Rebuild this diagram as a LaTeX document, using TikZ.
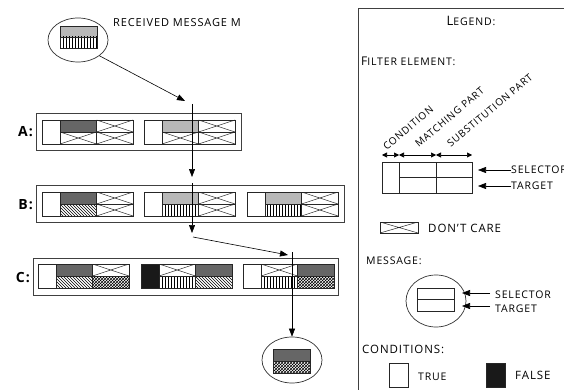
\documentclass[tikz,border=0pt]{standalone}
\usepackage{fontspec}
\setmainfont{Open Sans}[LetterSpace=8]
\usetikzlibrary{patterns,arrows.meta,shapes.geometric}
\newcommand\felem[7]{%
 \path[cl,#3] (#1,#2) rectangle ++(18,24);
 \path[cl,#4] (#1+18,#2) rectangle ++(36.5,12);
 \path[cl,#5] (#1+18,#2+12) rectangle ++(36.5,12);
 \path[cl,#6] (#1+54.5,#2) rectangle ++(36.5,12);
 \path[cl,#7] (#1+54.5,#2+12) rectangle ++(36.5,12);
}
\tikzset{
 frame/.style={draw=black!75, line width=0.9pt},
 cl/.style={draw=black!85, line width=0.7pt},
 wt/.style={fill=white},
 bk/.style={fill=black!90},
 dg/.style={fill=black!60},
 lg/.style={fill=black!28},
 vl/.style={pattern=vertical lines},
 dh/.style={pattern=north west lines},
 ch/.style={pattern=crosshatch},
 xx/.style={path picture={\draw[line width=0.5pt] (path picture bounding box.north west) -- (path picture bounding box.south east) (path picture bounding box.south west) -- (path picture bounding box.north east);}},
 arr/.style={-{Triangle[length=8pt,width=6pt]}, line width=0.6pt},
 darr/.style={{Triangle[length=5pt,width=5pt]}-{Triangle[length=5pt,width=5pt]}, line width=0.6pt},
 lbl/.style={font=\fontsize{10.5}{12}\selectfont, inner sep=0pt},
 rlbl/.style={font=\fontsize{10}{11}\selectfont, inner sep=0pt, anchor=south west},
 rowlbl/.style={font=\fontsize{14}{16}\selectfont\bfseries, inner sep=0pt},
 msg/.style={ellipse, draw=black!80, line width=0.7pt},
}
\begin{document}
\begin{tikzpicture}[x=1pt,y=-1pt]
\useasboundingbox (0,0) rectangle (564,390);
\fill[white] (0,0) rectangle (564,390);
% ---------- received message
\node[msg, minimum width=60, minimum height=44] (m1) at (78,40) {};
\path[cl,lg] (60,26) rectangle (97,37);
\path[cl,vl] (60,37) rectangle (97,48);
\node[lbl, anchor=west, font=\fontsize{11}{12}\selectfont] (t1) at (113,23) {RECEIVED MESSAGE M};
% ---------- row A
\draw[frame] (36,113) rectangle (241,150);
\node[rowlbl, anchor=east] (la) at (33,132) {A:};
\felem{42}{120}{wt}{dg}{xx}{xx}{xx}
\felem{144}{120}{wt}{lg}{xx}{xx}{xx}
% ---------- row B
\draw[frame] (36,185) rectangle (344,222);
\node[rowlbl, anchor=east] (lb) at (33,205) {B:};
\felem{42}{192}{wt}{dg}{dh}{xx}{xx}
\felem{144}{192}{wt}{lg}{vl}{xx}{xx}
\felem{247}{192}{wt}{lg}{vl}{xx}{xx}
% ---------- row C
\draw[frame] (33,258) rectangle (338,295);
\node[rowlbl, anchor=east] (lc) at (30,278) {C:};
\felem{38}{264}{wt}{dg}{dh}{xx}{ch}
\felem{141}{264}{bk}{xx}{vl}{dg}{dh}
\felem{243}{264}{wt}{xx}{vl}{dg}{ch}
% ---------- result message
\node[msg, minimum width=60, minimum height=46] (m2) at (292,360) {};
\path[cl,dg] (273,349) rectangle (310,361);
\path[cl,ch] (273,361) rectangle (310,373);
% ---------- flow arrows
\coordinate (p1) at (185,101);
\coordinate (p2) at (192,104);
\coordinate (p3) at (192,177);
\coordinate (p4) at (192,183);
\coordinate (p5) at (192,233);
\coordinate (p6) at (193,237);
\coordinate (p7) at (288,255);
\coordinate (p8) at (292,252);
\draw[arr] (m1.south east) -- (p1);
\draw[arr] (p2) -- (p3);
\draw[arr] (p4) -- (p5);
\draw[arr] (p6) -- (p7);
\draw[arr] (p8) -- (m2.north);
% ---------- legend
\draw[frame] (358,400) -- (358,8) -- (600,8);
\node[lbl, anchor=base] (lg0) at (471,26) {{\fontsize{13}{13}\selectfont L}EGEND:};
\node[lbl, anchor=base west] (lg1) at (361,66) {{\fontsize{12}{12}\selectfont F}ILTER ELEMENT:};
\node[rlbl] (r1) at (382,151) {\rotatebox{40}{CONDITION}};
\node[rlbl] (r2) at (414,148) {\rotatebox{40}{MATCHING PART}};
\node[rlbl] (r3) at (446,148) {\rotatebox{40}{SUBSTITUTION PART}};
\coordinate (d0) at (382,155);
\coordinate (d1) at (399,155);
\coordinate (d2) at (436,155);
\coordinate (d3) at (472,155);
\draw[darr] (d0) -- (d1);
\draw[darr] (d1) -- (d2);
\draw[darr] (d2) -- (d3);
\path[cl] (382,162) rectangle (399,193);
\path[cl] (399,162) rectangle (436,177.5);
\path[cl] (399,177.5) rectangle (436,193);
\path[cl] (436,162) rectangle (472,177.5);
\path[cl] (436,177.5) rectangle (472,193);
\node[lbl, anchor=west] (s1) at (511,170) {SELECTOR};
\node[lbl, anchor=west] (g1) at (511,186) {TARGET};
\coordinate (s1t) at (478,170);
\coordinate (g1t) at (478,186);
\draw[arr] (s1.west) -- (s1t);
\draw[arr] (g1.west) -- (g1t);
% don't care
\path[cl,xx] (380,222) rectangle (418,233);
\node[lbl, anchor=west, font=\fontsize{11.5}{13}\selectfont] (dc) at (428,228) {DON’T CARE};
% message
\node[lbl, anchor=base west] (mg) at (366,264) {MESSAGE:};
\node[msg, minimum width=60, minimum height=52] (m3) at (436,301) {};
\path[cl] (417,288) rectangle (454,299.5);
\path[cl] (417,299.5) rectangle (454,311);
\node[lbl, anchor=west] (s2) at (495,295) {SELECTOR};
\node[lbl, anchor=west] (g2) at (495,309) {TARGET};
\coordinate (s2t) at (462,293);
\coordinate (g2t) at (462,306);
\draw[arr] (490,293) -- (s2t);
\draw[arr] (490,306) -- (g2t);
% conditions
\node[lbl, anchor=base west, font=\fontsize{11.5}{13}\selectfont] (cd) at (362,353) {CONDITIONS:};
\path[cl,wt] (389,363) rectangle (408,387);
\node[lbl, anchor=west] (tr) at (418,377) {TRUE};
\path[cl,bk] (486,363) rectangle (505,387);
\node[lbl, anchor=west, font=\fontsize{11.5}{13}\selectfont] (fa) at (515,375) {FALSE};
\end{tikzpicture}
\end{document}
